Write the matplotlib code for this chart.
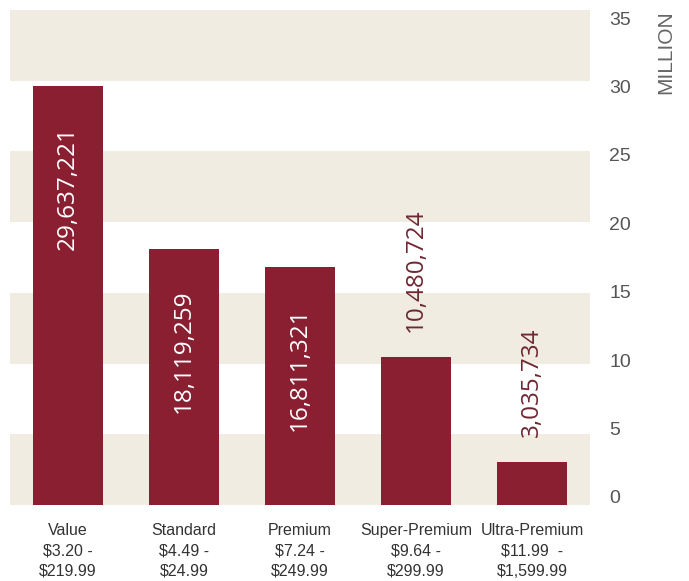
import matplotlib
matplotlib.use('Agg')
import matplotlib.pyplot as plt

plt.rcParams['text.parse_math'] = False

# --- data ---
categories = ['Value', 'Standard', 'Premium', 'Super-Premium', 'Ultra-Premium']
price_low = ['$3.20 -', '$4.49 -', '$7.24 -', '$9.64 -', '$11.99  -']
price_high = ['$219.99', '$24.99', '$249.99', '$299.99', '$1,599.99']
units = [29637221, 18119259, 16811321, 10480724, 3035734]
y_ticks = [0, 5, 10, 15, 20, 25, 30, 35]

BAR = '#8A1F32'
BAND = '#F0ECE1'

fig = plt.figure(figsize=(6.89, 5.81), dpi=100)
ax = fig.add_axes([10 / 689, 76 / 581, 580 / 689, 495 / 581])

# alternating background bands
for lo in range(0, 35, 10):
    ax.axhspan(lo, lo + 5, color=BAND, lw=0, zorder=0)

vals = [u / 1e6 for u in units]
x = list(range(len(categories)))
ax.bar(x, vals, width=0.61, color=BAR, zorder=2)

for xi, v, u in zip(x, vals, units):
    txt = f'{u:,}'
    if v > 15:
        ax.annotate(txt, (xi, v), xytext=(0, -29), textcoords='offset points',
                    rotation=90, ha='center', va='top', color='white',
                    fontsize=17.5, family='Open Sans', zorder=3)
    else:
        ax.annotate(txt, (xi, v), xytext=(0, 18), textcoords='offset points',
                    rotation=90, ha='center', va='bottom', color='#6E2833',
                    fontsize=17.5, family='Open Sans', zorder=3)

ax.set_xlim(-0.5, 4.5)
ax.set_ylim(0, 35)
ax.set_yticks([])
ax.set_xticks(x)
ax.set_xticklabels([f'{c}\n{a}\n{b}' for c, a, b in zip(categories, price_low, price_high)],
                   fontsize=11.5, family='Liberation Sans', color='#333333', linespacing=1.45)
ax.tick_params(axis='x', length=0, pad=13)
for s in ax.spines.values():
    s.set_visible(False)

# right-hand tick labels
ax2 = ax.twinx()
ax2.set_ylim(-0.586, 35.586)
ax2.set_yticks(y_ticks)
ax2.set_yticklabels([str(t) for t in y_ticks], fontsize=14, family='Liberation Sans', color='#555555')
ax2.tick_params(axis='y', length=0, pad=14)
for s in ax2.spines.values():
    s.set_visible(False)

fig.text(666 / 689, 1 - 10 / 581, 'MILLION', rotation=90, ha='center', va='top',
         fontsize=15, family='Liberation Sans', color='#666666')

fig.savefig('out.png', dpi=100)
